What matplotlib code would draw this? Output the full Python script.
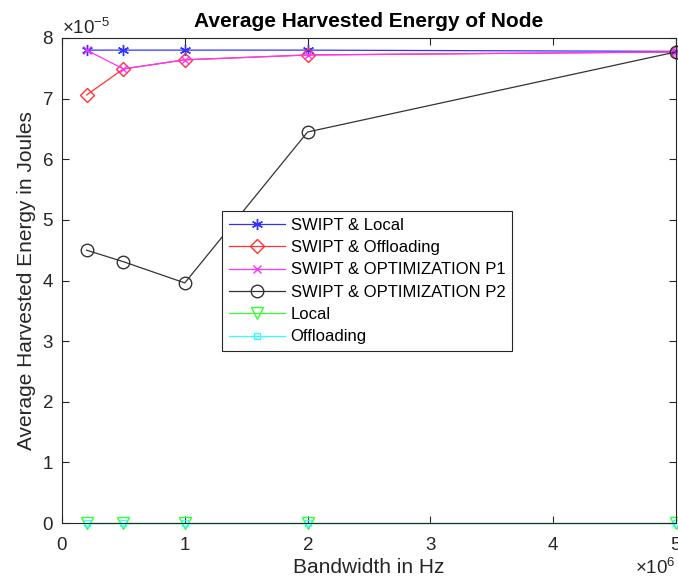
import numpy as np
import matplotlib
matplotlib.use('Agg')
import matplotlib.pyplot as plt
from matplotlib.ticker import ScalarFormatter

plt.rcParams['font.family'] = ['Liberation Sans', 'DejaVu Sans']
plt.rcParams['mathtext.fontset'] = 'custom'
plt.rcParams['mathtext.rm'] = 'Liberation Sans'

# bandwidth values (Hz)
bandwidth = [0.2e6, 0.5e6, 1e6, 2e6, 5e6]

# average harvested energy (J)
swipt_local = [7.80e-5, 7.80e-5, 7.80e-5, 7.80e-5, 7.78e-5]
swipt_offload = [7.06e-5, 7.49e-5, 7.64e-5, 7.72e-5, 7.77e-5]
swipt_opt_p1 = [7.80e-5, 7.49e-5, 7.64e-5, 7.72e-5, 7.77e-5]
swipt_opt_p2 = [4.50e-5, 4.31e-5, 3.96e-5, 6.45e-5, 7.77e-5]
local = [0, 0, 0, 0, 0]
offload = [0, 0, 0, 0, 0]

labels = ['SWIPT & Local', 'SWIPT & Offloading', 'SWIPT & OPTIMIZATION P1',
          'SWIPT & OPTIMIZATION P2', 'Local', 'Offloading']

fig = plt.figure(figsize=(6.78, 5.85), dpi=100)
ax = fig.add_axes([62/678, 62/585, 614/678, 485/585])

ax.plot(bandwidth, swipt_local, color='#3333ff', marker=(6, 2, 0), ms=8, mew=1.0, lw=0.9, label=labels[0], clip_on=False)
ax.plot(bandwidth, swipt_offload, color='#ff3333', marker='D', ms=7, mfc='none', lw=0.9, label=labels[1], clip_on=False)
ax.plot(bandwidth, swipt_opt_p1, color='#ff33ff', marker='x', ms=6, mfc='none', lw=0.9, label=labels[2], clip_on=False)
ax.plot(bandwidth, swipt_opt_p2, color='#333333', marker='o', ms=9, mfc='none', lw=0.9, label=labels[3], clip_on=False)
ax.plot(bandwidth, local, color='#33ff33', marker='v', ms=8, mfc='none', lw=0.9, label=labels[4], clip_on=False)
ax.plot(bandwidth, offload, color='#33ffff', marker='s', ms=5, mfc='none', lw=0.9, label=labels[5], clip_on=False)

ax.set_xlim(0, 5e6)
ax.set_ylim(0, 8e-5)
ax.set_xticks(np.arange(0, 6) * 1e6)
ax.set_yticks(np.arange(0, 9) * 1e-5)

for axis in [ax.xaxis, ax.yaxis]:
    fmt = ScalarFormatter(useMathText=True)
    fmt.set_powerlimits((0, 0))
    axis.set_major_formatter(fmt)

ax.tick_params(direction='in', top=True, right=True, labelsize=13.5, colors='#262626', length=5)
ax.tick_params(axis='x', pad=10)
ax.tick_params(axis='y', pad=6)
for t in [ax.xaxis.get_offset_text(), ax.yaxis.get_offset_text()]:
    t.set_fontsize(13.5)
    t.set_color('#262626')
for s in ax.spines.values():
    s.set_color('#262626')
    s.set_linewidth(0.8)

ax.set_xlabel('Bandwidth in Hz', fontsize=15, color='#262626', labelpad=3)
ax.set_ylabel('Average Harvested Energy in Joules', fontsize=15, color='#262626', labelpad=4)
ax.set_title('Average Harvested Energy of Node', fontsize=15, fontweight='bold', pad=8)

leg = ax.legend(loc='lower left', bbox_to_anchor=(0.2606, 0.3546), fontsize=12, fancybox=False,
                edgecolor='#262626', framealpha=1, borderpad=0.4, labelspacing=0.44,
                handlelength=3.35, handletextpad=0.36, borderaxespad=0)
leg.get_frame().set_linewidth(0.8)

plt.savefig('out.png', dpi=100)
